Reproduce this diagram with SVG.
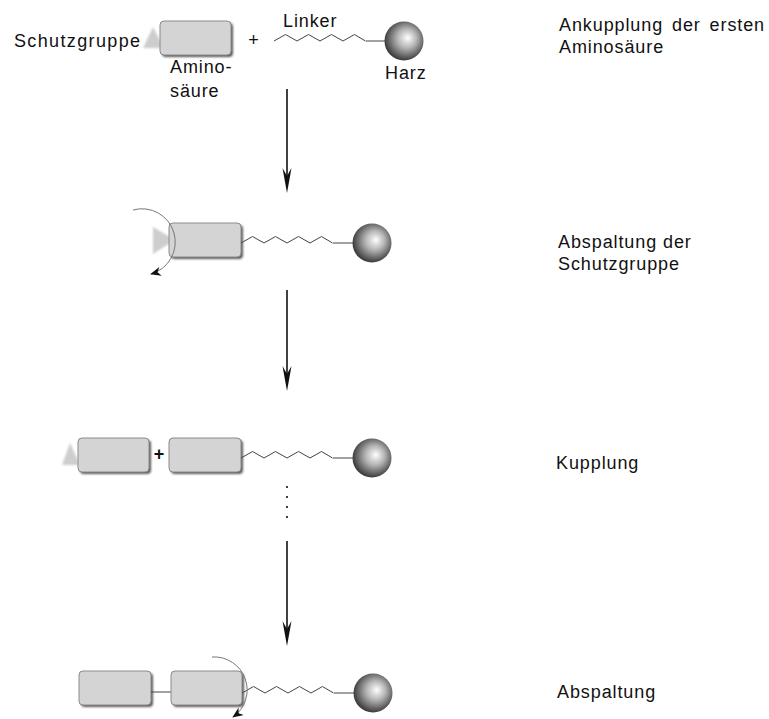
<svg xmlns="http://www.w3.org/2000/svg" width="769" height="719" viewBox="0 0 769 719">
<style>
text{font-family:"Liberation Sans",Arial,sans-serif;font-size:18px;fill:#111;letter-spacing:0.9px}
.box{fill:#d4d4d4;stroke:#8a8a8a;stroke-width:1}
.shadow{fill:#5a5a5a;filter:url(#blur1)}
.tri{fill:#cdcdcd;filter:url(#blur1)}
.zig{fill:none;stroke:#444;stroke-width:1}
.arc{fill:none;stroke:#777;stroke-width:1}
.arrow{stroke:#111;stroke-width:1.6;fill:none}
.head{fill:#111}
.sph{fill:url(#sphere)}
</style>
<defs>
<radialGradient id="sphere" cx="0.55" cy="0.45" r="0.55" fx="0.6" fy="0.42">
<stop offset="0" stop-color="#ffffff"/>
<stop offset="0.45" stop-color="#b4b4b4"/>
<stop offset="1" stop-color="#3c3c3c"/>
</radialGradient>
<filter id="blur1" x="-20%" y="-20%" width="140%" height="140%"><feGaussianBlur stdDeviation="0.8"/></filter>
<marker id="ah" viewBox="0 0 12 10" refX="11" refY="5" markerWidth="11" markerHeight="9" markerUnits="userSpaceOnUse" orient="auto">
<path d="M0,0 L12,5 L0,10 L3.5,5 Z" fill="#111"/>
</marker>
<path id="zz" d="M0,0 l11.5,-6.5 l11.5,6.5 l11.5,-6.5 l11.5,6.5 l11.5,-6.5 l11.5,6.5 l11.5,-6.5 l11,6.5"/>
</defs>

<g id="connectors">
<line class="arrow" x1="287" y1="89" x2="287" y2="178"/>
<path class="head" d="M282.5,168 L287,193 L291.5,168 L287,176 Z"/>
<line class="arrow" x1="287" y1="290" x2="287" y2="376"/>
<path class="head" d="M282.5,366 L287,391 L291.5,366 L287,374 Z"/>
<line class="arrow" x1="287" y1="541" x2="287" y2="631"/>
<path class="head" d="M282.5,621 L287,646 L291.5,621 L287,629 Z"/>
<g fill="#111">
<circle cx="287" cy="487" r="1.1"/><circle cx="287" cy="497" r="1.1"/><circle cx="287" cy="507" r="1.1"/><circle cx="287" cy="517" r="1.1"/>
</g>
</g>

<g id="step1">
<text x="14" y="47" textLength="127" lengthAdjust="spacing">Schutzgruppe</text>
<polygon class="tri" points="143,48 153,27 164,48"/>
<rect class="shadow" x="162" y="23" width="71" height="34" rx="4"/>
<rect class="box" x="160" y="21" width="71" height="34" rx="4"/>
<text x="170" y="73">Amino-</text>
<text x="170" y="97">säure</text>
<text x="254" y="46" text-anchor="middle">+</text>
<text x="283" y="27">Linker</text>
<use href="#zz" class="zig" transform="translate(274,41)"/>
<line class="zig" x1="366" y1="41" x2="385" y2="41"/>
<circle class="sph" cx="404" cy="41" r="19.5"/>
<text x="385" y="79">Harz</text>
<text x="559" y="31" word-spacing="3">Ankupplung der ersten</text>
<text x="559" y="53">Aminosäure</text>
</g>

<g id="step2">
<polygon class="tri" points="153,227 153,254 175,240"/>
<rect class="shadow" x="171" y="225" width="72" height="34" rx="4"/>
<rect class="box" x="169" y="223" width="72" height="34" rx="4"/>
<use href="#zz" class="zig" transform="translate(241,243)"/>
<line class="zig" x1="333" y1="243" x2="353" y2="243"/>
<circle class="sph" cx="372" cy="243" r="19.5"/>
<path class="arc" d="M133,210 A33,33 0 0 1 151,274" marker-end="url(#ah)"/>
<text x="558" y="248">Abspaltung der</text>
<text x="558" y="270">Schutzgruppe</text>
</g>

<g id="step3">
<polygon class="tri" points="62,465 70,443 80,465"/>
<rect class="shadow" x="80" y="440" width="71" height="34" rx="4"/>
<rect class="box" x="78" y="438" width="71" height="34" rx="4"/>
<text x="159" y="460" text-anchor="middle" font-weight="bold" style="letter-spacing:0">+</text>
<rect class="shadow" x="171" y="440" width="72" height="34" rx="4"/>
<rect class="box" x="169" y="438" width="72" height="34" rx="4"/>
<use href="#zz" class="zig" transform="translate(241,458)"/>
<line class="zig" x1="333" y1="458" x2="353" y2="458"/>
<circle class="sph" cx="372" cy="458" r="19.5"/>
<text x="556" y="469">Kupplung</text>
</g>

<g id="step4">
<rect class="shadow" x="81" y="673" width="72" height="34" rx="4"/>
<rect class="box" x="79" y="671" width="72" height="34" rx="4"/>
<line class="zig" x1="151" y1="692" x2="171" y2="692" stroke="#777"/>
<rect class="shadow" x="173" y="673" width="71" height="34" rx="4"/>
<rect class="box" x="171" y="671" width="71" height="34" rx="4"/>
<use href="#zz" class="zig" transform="translate(242,693)"/>
<line class="zig" x1="334" y1="693" x2="354" y2="693"/>
<circle class="sph" cx="373" cy="693" r="19.5"/>
<path class="arc" d="M212,657 A33,33 0 0 1 233,717" marker-end="url(#ah)"/>
<text x="557" y="698">Abspaltung</text>
</g>
</svg>
